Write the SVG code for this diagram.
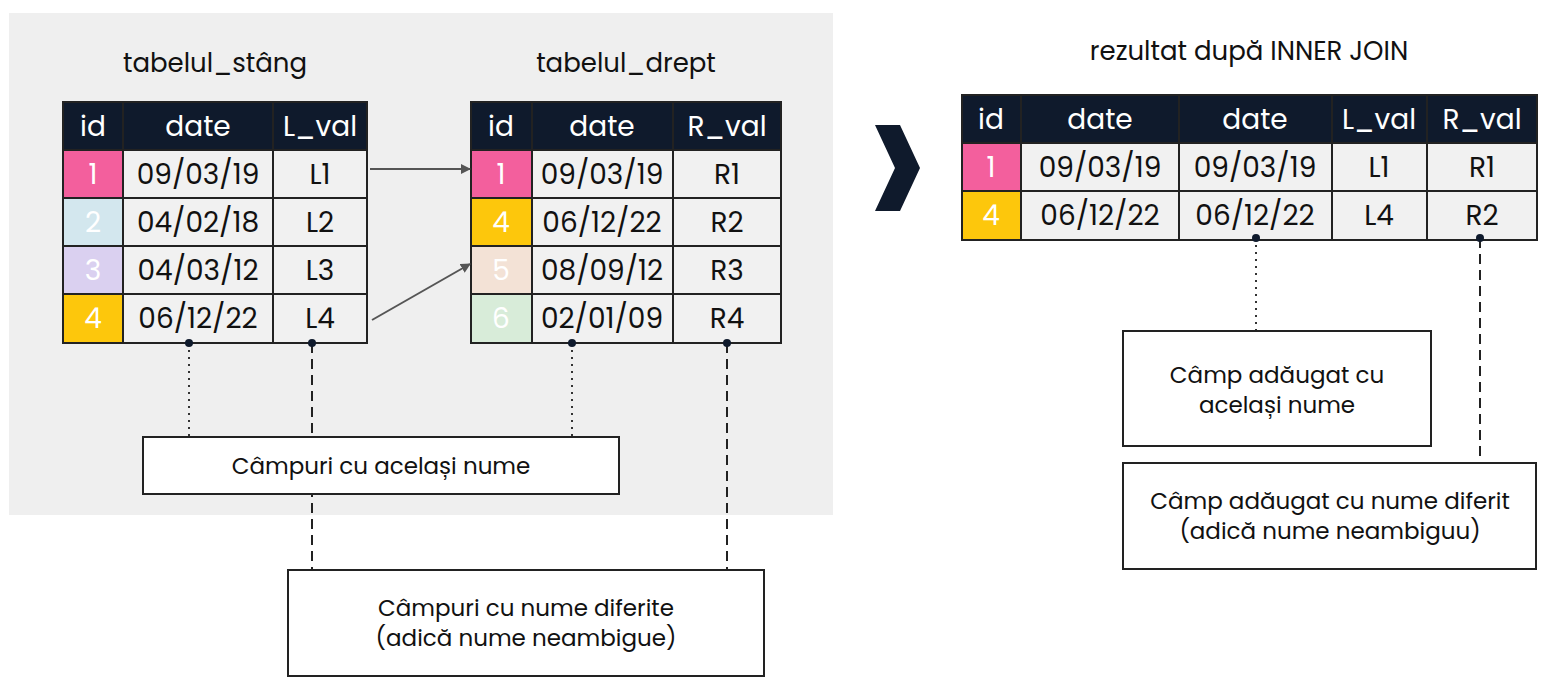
<svg xmlns="http://www.w3.org/2000/svg" width="1549" height="688" viewBox="0 0 1549 688">
<style>
text{font-family:Poppins,"Noto Sans","Liberation Sans",sans-serif;fill:#111;text-anchor:middle}
.h{fill:#0f1a2c}.c{fill:#f1f1f1}
.cell{font-size:28px}.hd{font-size:28px;fill:#fff}.idw{font-size:28px;fill:#fff}
.g{stroke:#222;stroke-width:2;fill:none}
.lbl{font-size:23px}.ttl{font-size:26px}
.box{fill:#fff;stroke:#222;stroke-width:2}
.dot{stroke:#333;stroke-width:2;stroke-dasharray:2 5}
.dash{stroke:#222;stroke-width:2;stroke-dasharray:10 6}
</style>
<defs><marker id="ah" markerWidth="10" markerHeight="10" refX="9" refY="5" orient="auto" markerUnits="userSpaceOnUse"><path d="M0,0 L10,5 L0,10 z" fill="#555"/></marker></defs>
<rect width="1549" height="688" fill="#fff"/>
<rect x="9" y="13" width="824" height="502" fill="#efefef"/>
<g id="tabel-stang">
<text class="ttl" x="215" y="72">tabelul_stâng</text>
<rect class="h" x="63" y="102" width="304" height="48"/>
<rect class="c" x="63" y="150" width="304" height="193"/>
<rect x="63" y="150" width="60" height="48" fill="#f35f9d"/>
<rect x="63" y="198" width="60" height="48" fill="#d3e7ee"/>
<rect x="63" y="246" width="60" height="48" fill="#dad0f0"/>
<rect x="63" y="294" width="60" height="49" fill="#fdc70c"/>
<path class="g" d="M63,102H367V343H63Z M63,150H367 M63,198H367 M63,246H367 M63,294H367 M123,102V343 M273,102V343"/>
<text class="hd" x="93" y="136">id</text><text class="hd" x="198" y="136">date</text><text class="hd" x="320" y="136">L_val</text>
<text class="idw" x="93" y="184">1</text><text class="idw" x="93" y="232">2</text><text class="idw" x="93" y="280">3</text><text class="idw" x="93" y="328">4</text>
<text class="cell" x="198" y="184">09/03/19</text><text class="cell" x="198" y="232">04/02/18</text><text class="cell" x="198" y="280">04/03/12</text><text class="cell" x="198" y="328">06/12/22</text>
<text class="cell" x="320" y="184">L1</text><text class="cell" x="320" y="232">L2</text><text class="cell" x="320" y="280">L3</text><text class="cell" x="320" y="328">L4</text>
</g>
<g id="tabel-drept">
<text class="ttl" x="626" y="72">tabelul_drept</text>
<rect class="h" x="471" y="102" width="310" height="48"/>
<rect class="c" x="471" y="150" width="310" height="193"/>
<rect x="471" y="150" width="61" height="48" fill="#f35f9d"/>
<rect x="471" y="198" width="61" height="48" fill="#fdc70c"/>
<rect x="471" y="246" width="61" height="48" fill="#f3e2d6"/>
<rect x="471" y="294" width="61" height="49" fill="#d8ecd9"/>
<path class="g" d="M471,102H781V343H471Z M471,150H781 M471,198H781 M471,246H781 M471,294H781 M532,102V343 M673,102V343"/>
<text class="hd" x="501" y="136">id</text><text class="hd" x="602" y="136">date</text><text class="hd" x="727" y="136">R_val</text>
<text class="idw" x="501" y="184">1</text><text class="idw" x="501" y="232">4</text><text class="idw" x="501" y="280">5</text><text class="idw" x="501" y="328">6</text>
<text class="cell" x="602" y="184">09/03/19</text><text class="cell" x="602" y="232">06/12/22</text><text class="cell" x="602" y="280">08/09/12</text><text class="cell" x="602" y="328">02/01/09</text>
<text class="cell" x="727" y="184">R1</text><text class="cell" x="727" y="232">R2</text><text class="cell" x="727" y="280">R3</text><text class="cell" x="727" y="328">R4</text>
</g>
<g id="chevron"><polygon points="875,125 900,125 920,168 900,211 875,211 895,168" fill="#0f1a2c"/></g>
<g id="rezultat">
<text class="ttl" x="1249" y="60">rezultat după INNER JOIN</text>
<rect class="h" x="962" y="95" width="575" height="48"/>
<rect class="c" x="962" y="143" width="575" height="97"/>
<rect x="962" y="143" width="59" height="48" fill="#f35f9d"/>
<rect x="962" y="191" width="59" height="49" fill="#fdc70c"/>
<path class="g" d="M962,95H1537V240H962Z M962,143H1537 M962,191H1537 M1021,95V240 M1179,95V240 M1332,95V240 M1427,95V240"/>
<text class="hd" x="991" y="129">id</text><text class="hd" x="1100" y="129">date</text><text class="hd" x="1255" y="129">date</text><text class="hd" x="1379" y="129">L_val</text><text class="hd" x="1482" y="129">R_val</text>
<text class="idw" x="991" y="177">1</text><text class="idw" x="991" y="225">4</text>
<text class="cell" x="1100" y="177">09/03/19</text><text class="cell" x="1255" y="177">09/03/19</text><text class="cell" x="1379" y="177">L1</text><text class="cell" x="1482" y="177">R1</text>
<text class="cell" x="1100" y="225">06/12/22</text><text class="cell" x="1255" y="225">06/12/22</text><text class="cell" x="1379" y="225">L4</text><text class="cell" x="1482" y="225">R2</text>
</g>
<g id="connectors">
<line x1="370" y1="169" x2="470" y2="169" stroke="#555" stroke-width="2" marker-end="url(#ah)"/>
<line x1="372" y1="320" x2="470" y2="264" stroke="#555" stroke-width="2" marker-end="url(#ah)"/>
<line class="dot" x1="189" y1="343" x2="189" y2="437"/>
<line class="dot" x1="572" y1="343" x2="572" y2="437"/>
<line class="dash" x1="312" y1="343" x2="312" y2="570"/>
<line class="dash" x1="727" y1="343" x2="727" y2="570"/>
<line class="dot" x1="1256" y1="238" x2="1256" y2="331"/>
<line class="dash" x1="1480" y1="238" x2="1480" y2="463"/>
<g fill="#0f1a2c"><circle cx="189" cy="343" r="4"/><circle cx="312" cy="343" r="4"/><circle cx="572" cy="343" r="4"/><circle cx="727" cy="343" r="4"/><circle cx="1256" cy="238" r="4"/><circle cx="1480" cy="238" r="4"/></g>
</g>
<g id="box-acelasi"><rect class="box" x="143" y="437" width="476" height="57"/><text class="lbl" x="381" y="474">Câmpuri cu același nume</text></g>
<g id="box-diferite"><rect class="box" x="288" y="570" width="476" height="106"/><text class="lbl" x="526" y="616">Câmpuri cu nume diferite</text><text class="lbl" x="526" y="646">(adică nume neambigue)</text></g>
<g id="box-camp-acelasi"><rect class="box" x="1123" y="331" width="308" height="115"/><text class="lbl" x="1277" y="383">Câmp adăugat cu</text><text class="lbl" x="1277" y="413">același nume</text></g>
<g id="box-camp-diferit"><rect class="box" x="1123" y="463" width="413" height="106"/><text class="lbl" x="1330" y="509">Câmp adăugat cu nume diferit</text><text class="lbl" x="1330" y="539">(adică nume neambiguu)</text></g>
</svg>
